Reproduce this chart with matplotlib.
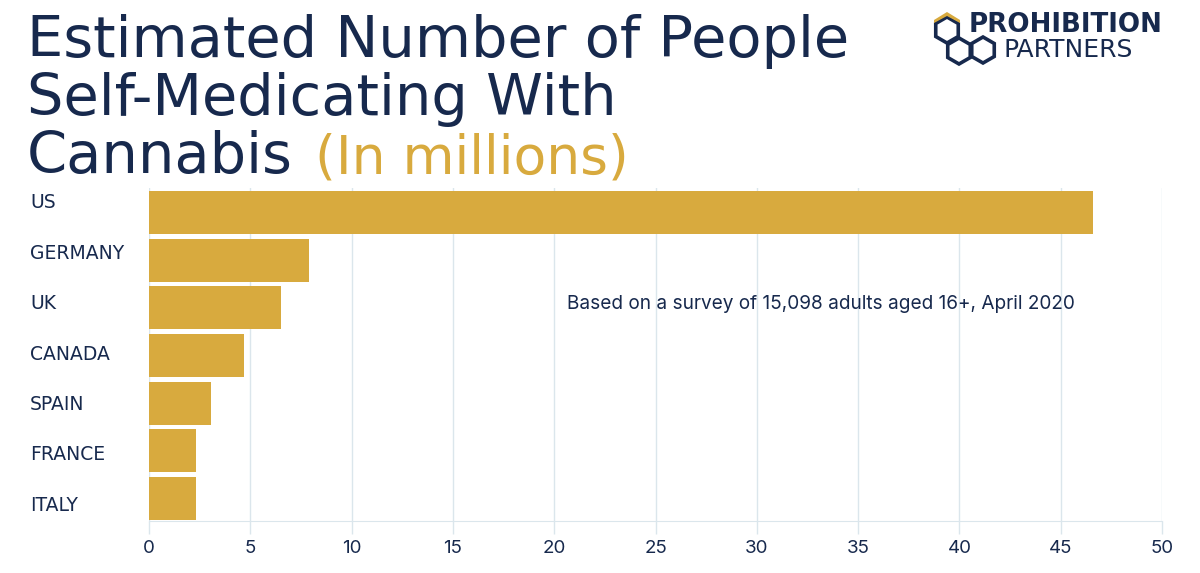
import numpy as np
import matplotlib.pyplot as plt
from matplotlib.patches import Polygon

countries = ['US', 'GERMANY', 'UK', 'CANADA', 'SPAIN', 'FRANCE', 'ITALY']
values = [46.6, 7.9, 6.5, 4.7, 3.05, 2.3, 2.3]
x_ticks = [0, 5, 10, 15, 20, 25, 30, 35, 40, 45, 50]

NAVY = '#17294d'
GOLD = '#d8aa3e'
GRID = '#dbe6ec'
W, H = 1200, 573

plt.rcParams['font.family'] = ['Inter', 'DejaVu Sans']

fig = plt.figure(figsize=(12, 5.73), dpi=100)
ax = fig.add_axes([149 / W, 1 - 521 / H, (1162 - 149) / W, (521 - 188) / H])

ax.barh(range(len(countries)), values, height=0.9, color=GOLD, zorder=3)
ax.set_xlim(0, 50)
ax.set_ylim(6.47, -0.51)
ax.set_xticks(x_ticks)
ax.set_yticks([])
ax.grid(axis='x', color=GRID, linewidth=1, zorder=0)
ax.tick_params(axis='x', length=9, width=1, color=GRID, labelcolor=NAVY, labelsize=13.5, pad=5)
for side in ['top', 'right', 'left']:
    ax.spines[side].set_visible(False)
ax.spines['bottom'].set_color(GRID)

ax.text(20.65, 1.92, 'Based on a survey of 15,098 adults aged 16+, April 2020',
        fontsize=13.7, color=NAVY, va='center', ha='left', zorder=4)

def page_text(x, y, s, **kw):
    kw.setdefault('va', 'baseline')
    fig.text(x / W, 1 - y / H, s, ha='left', **kw)

# category labels are not on the bar centres in the original, they drift down the page
for i, name in enumerate(countries):
    page_text(30, 203 + 50.4 * i, name, va='center', color=NAVY, fontsize=13.5,
              family=['DejaVu Sans'])

# title
title_style = dict(fontsize=41.4, family=['DejaVu Sans'])
page_text(27, 57, 'Estimated Number of People', color=NAVY, **title_style)
page_text(27, 115, 'Self-Medicating With', color=NAVY, **title_style)
page_text(27, 173, 'Cannabis', color=NAVY, **title_style)
page_text(315, 173, '(In millions)', color=GOLD, fontsize=38.5, family=['DejaVu Sans'])

# logo
def hexagon(cx, cy, r):
    angles = np.radians([90, 150, 210, 270, 330, 30])
    pts = [((cx + r * np.cos(a)) / W, 1 - (cy - r * np.sin(a)) / H) for a in angles]
    return Polygon(pts, closed=True, transform=fig.transFigure, fill=False,
                   edgecolor=NAVY, linewidth=2.6, joinstyle='miter')

for cx, cy in [(947, 30), (959, 51), (983, 50)]:
    fig.add_artist(hexagon(cx, cy, 13))
fig.add_artist(Polygon([(934 / W, 1 - 20 / H), (947 / W, 1 - 12 / H), (960 / W, 1 - 20 / H),
                        (960 / W, 1 - 23 / H), (947 / W, 1 - 16 / H), (934 / W, 1 - 23 / H)],
                       closed=True, transform=fig.transFigure, facecolor=GOLD, edgecolor='none'))
page_text(969, 32, 'PROHIBITION', color=NAVY, fontsize=18.8, fontweight='bold',
          family=['DejaVu Sans'])
page_text(1004, 57, 'PARTNERS', color=NAVY, fontsize=18, family=['DejaVu Sans'])

fig.savefig('out.png', dpi=100)
